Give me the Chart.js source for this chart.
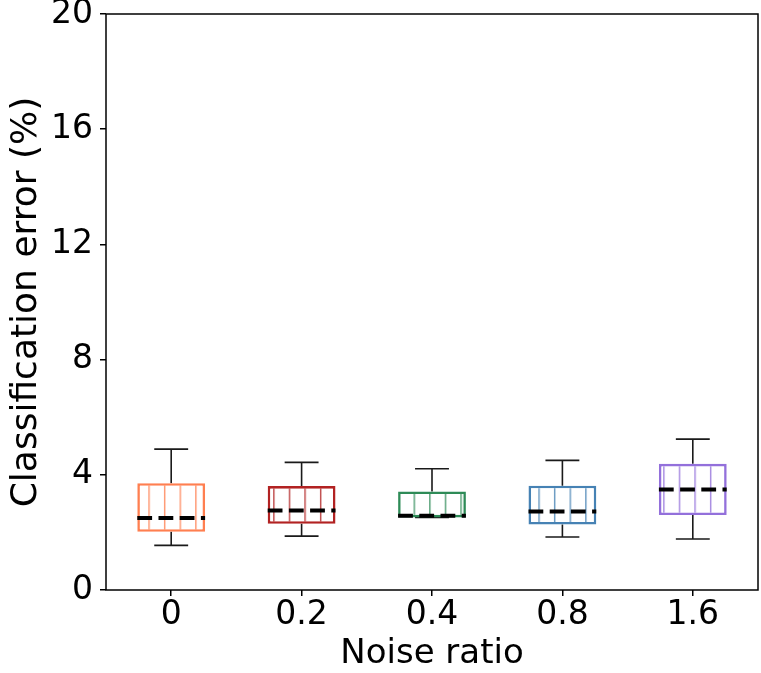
<!DOCTYPE html>
<html>
<head>
<meta charset="utf-8">
<script src="https://cdn.jsdelivr.net/npm/chart.js@4.4.0/dist/chart.umd.min.js"></script>
<style>
  html, body { margin: 0; padding: 0; background: #fff; }
  #wrap { width: 761px; height: 673px; }
</style>
</head>
<body>
<div id="wrap"><canvas id="boxChart"></canvas></div>
<script>
// values (classification error, %)
const noiseRatios = ['0', '0.2', '0.4', '0.8', '1.6'];
const whiskerLow  = [1.55, 1.87, 2.52, 1.84, 1.77];
const quartile1   = [2.02, 2.30, 2.52, 2.27, 2.60];
const medians     = [2.50, 2.76, 2.58, 2.73, 3.49];
const quartile3   = [3.71, 3.61, 3.42, 3.62, 4.38];
const whiskerHigh = [4.89, 4.43, 4.21, 4.50, 5.24];
const yTicks = [0, 4, 8, 12, 16, 20];

const edgeColors = ['#ff7f50', '#b22222', '#2e8b57', '#4682b4', '#9370db'];

const FONT = "'DejaVu Sans', 'Liberation Sans', sans-serif";

// vertical-line hatch like matplotlib's '|'
function makeHatch(color) {
  const c = document.createElement('canvas');
  c.width = 16;
  c.height = 4;
  const g = c.getContext('2d');
  g.fillStyle = '#fff';
  g.fillRect(0, 0, 16, 4);
  g.globalAlpha = 0.8;
  g.strokeStyle = color;
  g.lineWidth = 1.5;
  g.beginPath();
  g.moveTo(0.75, 0);
  g.lineTo(0.75, 4);
  g.stroke();
  const p = g.createPattern(c, 'repeat');
  p.setTransform(new DOMMatrix([15.6 / 16, 0, 0, 1, 7.9, 0]));
  return p;
}

const boxParts = {
  id: 'boxParts',
  beforeDatasetsDraw(chart) {
    const { ctx, scales: { x, y } } = chart;
    const meta = chart.getDatasetMeta(0);
    ctx.save();
    ctx.strokeStyle = '#1a1a1a';
    ctx.lineWidth = 1.6;
    meta.data.forEach((bar, i) => {
      const cx = x.getPixelForValue(i);
      const half = bar.width / 4;
      const yLo = y.getPixelForValue(whiskerLow[i]);
      const yHi = y.getPixelForValue(whiskerHigh[i]);
      ctx.beginPath();
      ctx.moveTo(cx, y.getPixelForValue(quartile1[i]));
      ctx.lineTo(cx, yLo);
      ctx.moveTo(cx - half, yLo);
      ctx.lineTo(cx + half, yLo);
      ctx.moveTo(cx, y.getPixelForValue(quartile3[i]));
      ctx.lineTo(cx, yHi);
      ctx.moveTo(cx - half, yHi);
      ctx.lineTo(cx + half, yHi);
      ctx.stroke();
    });
    ctx.restore();
  },
  afterDatasetsDraw(chart) {
    const { ctx, scales: { y } } = chart;
    const meta = chart.getDatasetMeta(0);
    ctx.save();
    ctx.strokeStyle = '#000';
    ctx.lineWidth = 4;
    ctx.setLineDash([14.8, 6.4]);
    meta.data.forEach((bar, i) => {
      const ym = y.getPixelForValue(medians[i]);
      ctx.beginPath();
      ctx.moveTo(bar.x - bar.width / 2, ym);
      ctx.lineTo(bar.x + bar.width / 2, ym);
      ctx.stroke();
    });
    ctx.restore();
  },
  afterDraw(chart) {
    const { ctx, chartArea: a } = chart;
    ctx.save();
    ctx.strokeStyle = '#000';
    ctx.lineWidth = 1.5;
    ctx.strokeRect(a.left, a.top, a.right - a.left, a.bottom - a.top);
    ctx.restore();
  }
};

const ctx = document.getElementById('boxChart').getContext('2d');

new Chart(ctx, {
  type: 'bar',
  data: {
    labels: noiseRatios,
    datasets: [{
      data: quartile1.map((q, i) => [q, quartile3[i]]),
      backgroundColor: edgeColors.map(makeHatch),
      borderColor: edgeColors,
      borderWidth: 2.6,
      borderSkipped: false,
      barPercentage: 0.52,
      categoryPercentage: 1
    }]
  },
  options: {
    responsive: true,
    maintainAspectRatio: false,
    animation: false,
    layout: { padding: { top: 14, right: 3, left: 0, bottom: 0 } },
    plugins: {
      legend: { display: false },
      tooltip: { enabled: false }
    },
    scales: {
      x: {
        afterFit: (s) => { s.height = 83; },
        grid: { display: true, drawOnChartArea: false, offset: false, tickLength: 6, color: '#000', lineWidth: 1.5 },
        border: { display: false },
        ticks: { color: '#000', padding: 0, font: { family: FONT, size: 33 } },
        title: {
          display: true,
          text: 'Noise ratio',
          color: '#000',
          padding: { top: 0, bottom: -2 },
          font: { family: FONT, size: 34 }
        }
      },
      y: {
        min: 0,
        max: 20,
        afterFit: (s) => { s.width = 106; },
        afterBuildTicks: (s) => { s.ticks = yTicks.map(v => ({ value: v })); },
        grid: { display: true, drawOnChartArea: false, tickLength: 6, color: '#000', lineWidth: 1.5 },
        border: { display: false },
        ticks: { color: '#000', padding: 7, font: { family: FONT, size: 33, lineHeight: 0.4 } },
        title: {
          display: true,
          text: 'Classification error (%)',
          color: '#000',
          padding: { top: 5.5, bottom: 0 },
          font: { family: FONT, size: 36 }
        }
      }
    }
  },
  plugins: [boxParts]
});
</script>
</body>
</html>
